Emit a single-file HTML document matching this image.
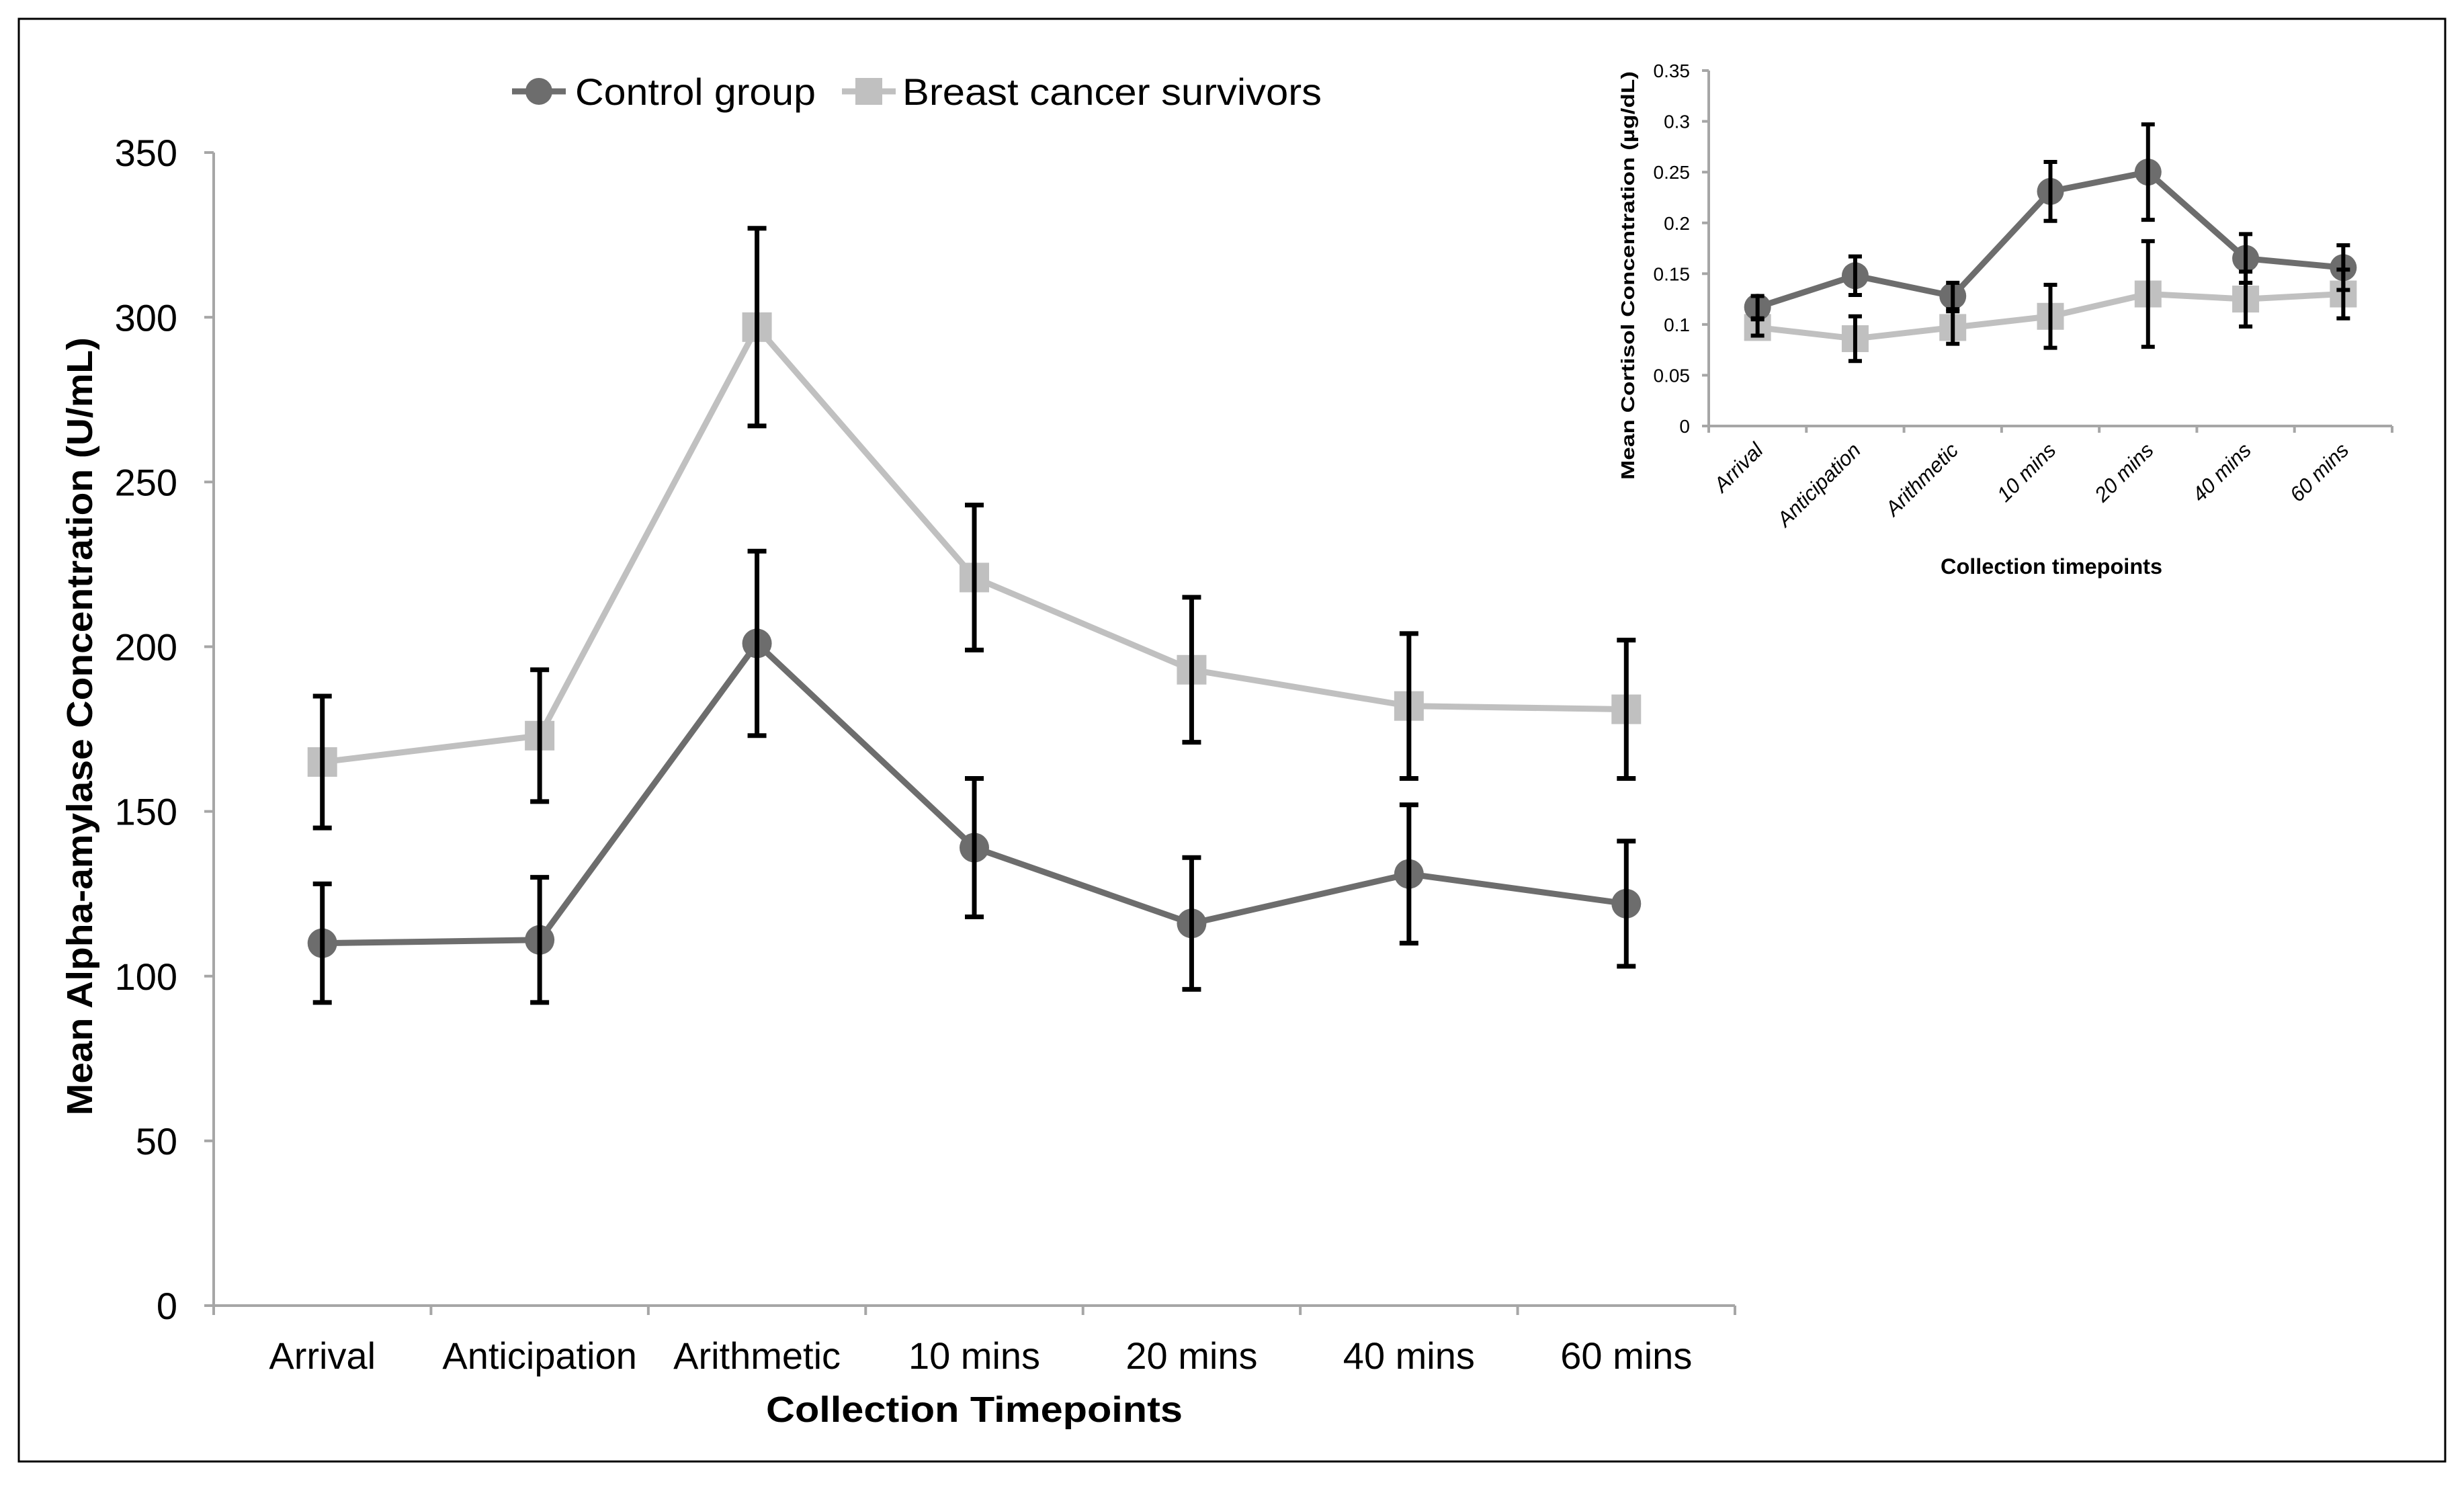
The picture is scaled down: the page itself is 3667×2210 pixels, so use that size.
<!DOCTYPE html>
<html><head><meta charset="utf-8"><style>
html,body{margin:0;padding:0;background:#fff}
svg{display:block}
text{font-family:"Liberation Sans",sans-serif}
</style></head><body>
<svg id="chart" width="3667" height="2210" viewBox="0 0 3667 2210" xmlns="http://www.w3.org/2000/svg">
<rect x="28" y="28" width="3611" height="2147" fill="#fff" stroke="#000" stroke-width="3"/>
<g id="main"></g>
<g id="inset"></g>
<g>
  <g>
    <line x1="762" y1="136" x2="842" y2="136" stroke="#6d6d6d" stroke-width="9"/>
    <circle cx="802" cy="136" r="20" fill="#6d6d6d"/>
    <text x="856" y="156" font-size="56" fill="#000" textLength="358" lengthAdjust="spacingAndGlyphs">Control group</text>
  </g>
  <g>
    <line x1="1253" y1="136" x2="1333" y2="136" stroke="#c0c0c0" stroke-width="9"/>
    <rect x="1273" y="116" width="40" height="40" fill="#c0c0c0"/>
    <text x="1343" y="156" font-size="56" fill="#000" textLength="624" lengthAdjust="spacingAndGlyphs">Breast cancer survivors</text>
  </g>
</g>
</svg>
<script>
const categories = ["Arrival","Anticipation","Arithmetic","10 mins","20 mins","40 mins","60 mins"];
const mainYTicks = [0,50,100,150,200,250,300,350];
const mainControl = [110,111,201,139,116,131,122];
const mainControlErr = [18,19,28,21,20,21,19];
const mainBcs = [165,173,297,221,193,182,181];
const mainBcsErr = [20,20,30,22,22,22,21];
const insetYTicks = [0,0.05,0.1,0.15,0.2,0.25,0.3,0.35];
const insetYTickLabels = ["0","0.05","0.1","0.15","0.2","0.25","0.3","0.35"];
const insetControl = [0.117,0.148,0.128,0.231,0.250,0.165,0.156];
const insetControlErr = [0.011,0.019,0.013,0.029,0.047,0.024,0.022];
const insetBcs = [0.097,0.086,0.097,0.108,0.130,0.125,0.130];
const insetBcsErr = [0.008,0.022,0.016,0.031,0.052,0.027,0.024];

const NS="http://www.w3.org/2000/svg";
function mk(parent,tag,attrs,txt){const e=document.createElementNS(NS,tag);for(const k in attrs)e.setAttribute(k,attrs[k]);if(txt!==undefined)e.textContent=txt;parent.appendChild(e);return e;}

function drawChart(g,cfg){
  const {x0,x1,y0,yTop,yMax}=cfg;
  const band=(x1-x0)/categories.length;
  const X=i=>x0+band*(i+0.5);
  const Y=v=>y0-(v/yMax)*(y0-yTop);
  const ya=mk(g,'line',{x1:x0,y1:yTop,x2:x0,y2:y0,stroke:'#a6a6a6','stroke-width':cfg.aw});
  
  
  const xa=mk(g,'line',{x1:x0-cfg.tk,y1:y0,x2:x1,y2:y0,stroke:'#a6a6a6','stroke-width':cfg.aw});
  
  
  cfg.ticks.forEach((t,i)=>{
    mk(g,'line',{x1:x0-cfg.tk,y1:Y(t),x2:x0,y2:Y(t),stroke:'#a6a6a6','stroke-width':cfg.aw});
    const tl=mk(g,'text',{x:x0-cfg.lg,y:Y(t)+cfg.fs*0.36,'font-size':cfg.fs,'text-anchor':'end',fill:'#000'},cfg.tickLabels[i]);
    
    
  });
  for(let i=0;i<=categories.length;i++){
    mk(g,'line',{x1:x0+band*i,y1:y0,x2:x0+band*i,y2:y0+cfg.tk,stroke:'#a6a6a6','stroke-width':cfg.aw});
  }
  categories.forEach((c,i)=>{
    let t;
    if(cfg.rot){
      const ax=X(i)+10, ay=y0+38;
      t=mk(g,'text',{x:ax,y:ay,'font-size':cfg.cfs,'font-style':'italic','text-anchor':'end',fill:'#000',transform:`rotate(-45 ${ax} ${ay})`},c);
    } else {
      t=mk(g,'text',{x:X(i),y:y0+94,'font-size':cfg.cfs,'text-anchor':'middle',fill:'#000'},c);
    }
    
    
  });
  const series=[
    {v:cfg.bcs,e:cfg.bcsE,col:'#c0c0c0',shape:'sq',n:'bcs'},
    {v:cfg.ctl,e:cfg.ctlE,col:'#6d6d6d',shape:'ci',n:'control'}];
  series.forEach(s=>{
    const line=mk(g,'polyline',{points:s.v.map((v,i)=>X(i)+','+Y(v)).join(' '),fill:'none',stroke:s.col,'stroke-width':cfg.lw});
    
    
  });
  series.forEach(s=>{
    s.v.forEach((v,i)=>{
      let m;
      if(s.shape==='sq') m=mk(g,'rect',{x:X(i)-cfg.ms,y:Y(v)-cfg.ms,width:cfg.ms*2,height:cfg.ms*2,fill:s.col});
      else m=mk(g,'circle',{cx:X(i),cy:Y(v),r:cfg.ms,fill:s.col});
      
      
    });
  });
  series.forEach(s=>{
    s.v.forEach((v,i)=>{
      const eg=mk(g,'g',{stroke:'#000','stroke-width':cfg.ew});
      
      
      const hi=Y(v+s.e[i]),lo=Y(v-s.e[i]),x=X(i);
      mk(eg,'line',{x1:x,y1:hi,x2:x,y2:lo});
      mk(eg,'line',{x1:x-cfg.cap,y1:hi,x2:x+cfg.cap,y2:hi});
      mk(eg,'line',{x1:x-cfg.cap,y1:lo,x2:x+cfg.cap,y2:lo});
    });
  });
}

const main=document.getElementById('main');
drawChart(main,{p:'main-',x0:318,x1:2582,y0:1943,yTop:227,yMax:350,ticks:mainYTicks,tickLabels:mainYTicks.map(String),
  fs:56,cfs:56,tk:14,lg:54,aw:4,lw:9,ms:22,ew:7,cap:14,
  ctl:mainControl,ctlE:mainControlErr,bcs:mainBcs,bcsE:mainBcsErr,rot:false});
let t=mk(main,'text',{x:1450,y:2116,'font-size':54,'font-weight':'bold','text-anchor':'middle',fill:'#000',textLength:620,lengthAdjust:'spacingAndGlyphs'},'Collection Timepoints');


t=mk(main,'text',{x:0,y:0,'font-size':54,'font-weight':'bold','text-anchor':'middle',fill:'#000',transform:'translate(137 1081) rotate(-90)',textLength:1158,lengthAdjust:'spacingAndGlyphs'},'Mean Alpha-amylase Concentration (U/mL)');



const inset=document.getElementById('inset');
drawChart(inset,{p:'inset-',x0:2543,x1:3560,y0:634,yTop:105,yMax:0.35,ticks:insetYTicks,tickLabels:insetYTickLabels,
  fs:28,cfs:31,tk:10,lg:28,aw:4,lw:9,ms:20,ew:6,cap:10,
  ctl:insetControl,ctlE:insetControlErr,bcs:insetBcs,bcsE:insetBcsErr,rot:true});
t=mk(inset,'text',{x:3053,y:854,'font-size':32,'font-weight':'bold','text-anchor':'middle',fill:'#000',textLength:330,lengthAdjust:'spacingAndGlyphs'},'Collection timepoints');


t=mk(inset,'text',{x:0,y:0,'font-size':28,'font-weight':'bold','text-anchor':'middle',fill:'#000',transform:'translate(2432 410) rotate(-90)',textLength:608,lengthAdjust:'spacingAndGlyphs'},'Mean Cortisol Concentration  (µg/dL)');


</script>
</body></html>
